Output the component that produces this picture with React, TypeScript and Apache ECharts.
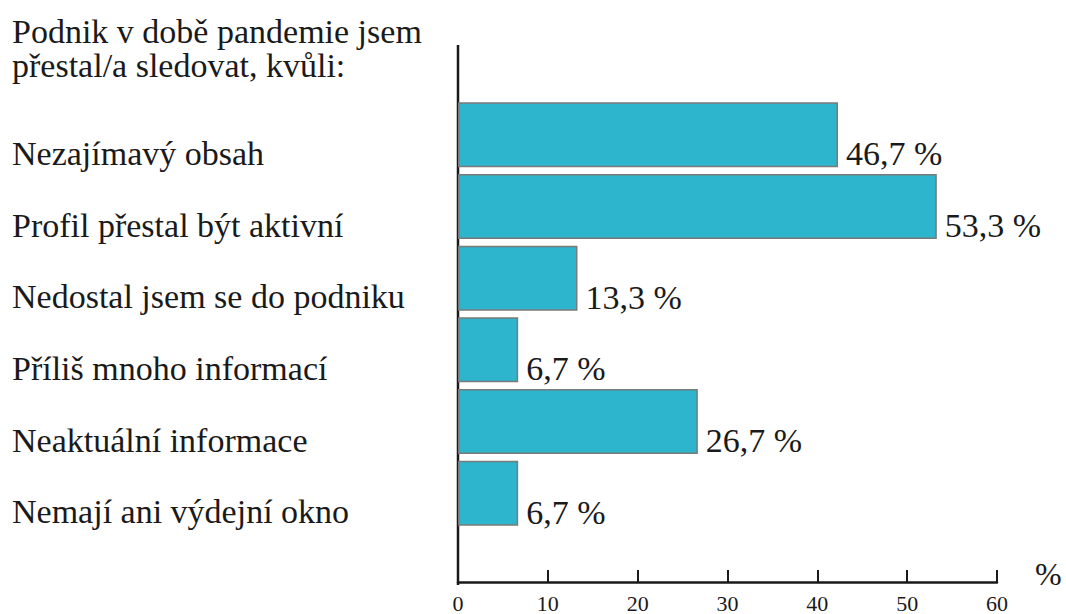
import React, { useEffect, useRef } from "react";
import * as echarts from "echarts";

const titleLines = ["Podnik v době pandemie jsem", "přestal/a sledovat, kvůli:"];
const categories = [
  "Nezajímavý obsah",
  "Profil přestal být aktivní",
  "Nedostal jsem se do podniku",
  "Příliš mnoho informací",
  "Neaktuální informace",
  "Nemají ani výdejní okno",
];
// bar lengths as drawn
const barValues = [42.3, 53.3, 13.3, 6.7, 26.7, 6.7];
// printed value labels
const valueLabels = ["46,7 %", "53,3 %", "13,3 %", "6,7 %", "26,7 %", "6,7 %"];
const xTicks = [0, 10, 20, 30, 40, 50, 60];
const unitLabel = "%";

const FONT = "Liberation Serif";
const INK = "#1a1a1a";

export default function App() {
  const ref = useRef<HTMLDivElement>(null);
  useEffect(() => {
    if (!ref.current) return;
    const chart = echarts.init(ref.current, null, { renderer: "svg" });
    chart.setOption({
      animation: false,
      backgroundColor: "#ffffff",
      textStyle: { fontFamily: FONT },
      grid: { left: 458, right: 69, top: 99, bottom: 83 },
      xAxis: {
        type: "value",
        min: xTicks[0],
        max: xTicks[xTicks.length - 1],
        interval: 10,
        offset: 53,
        axisLine: { show: true, lineStyle: { color: INK, width: 2.5 } },
        axisTick: { show: true, inside: true, length: 12, lineStyle: { color: INK, width: 2 } },
        axisLabel: { color: INK, fontFamily: FONT, fontSize: 22, margin: 10 },
        splitLine: { show: false },
      },
      yAxis: {
        type: "category",
        data: categories,
        inverse: true,
        axisLine: { show: false },
        axisTick: { show: false },
        axisLabel: {
          color: INK,
          fontFamily: FONT,
          fontSize: 34,
          align: "left",
          verticalAlign: "top",
          lineHeight: 37,
          margin: 446,
        },
      },
      graphic: [
        {
          type: "line",
          shape: { x1: 458, y1: 45, x2: 458, y2: 585 },
          style: { stroke: INK, lineWidth: 2.5 },
        },
        {
          type: "text",
          left: 12,
          top: 14,
          style: {
            text: titleLines.join("\n"),
            fontFamily: FONT,
            fontSize: 34,
            fill: INK,
            lineHeight: 34,
          },
        },
        {
          type: "text",
          left: 1035,
          top: 558,
          style: { text: unitLabel, fontFamily: FONT, fontSize: 32, fill: INK },
        },
      ],
      series: [
        {
          type: "bar",
          data: barValues,
          barWidth: 65,
          itemStyle: { color: "#2cb5cc", borderColor: "#7a7a7a", borderWidth: 1.5 },
          label: {
            show: true,
            position: "right",
            distance: 8,
            offset: [0, 19],
            fontFamily: FONT,
            fontSize: 34,
            color: INK,
            formatter: (p: any) => valueLabels[p.dataIndex],
          },
        },
      ],
    });
    return () => chart.dispose();
  }, []);
  return <div ref={ref} style={{ width: 1066, height: 614, position: "absolute", left: 0, top: 0 }} />;
}
